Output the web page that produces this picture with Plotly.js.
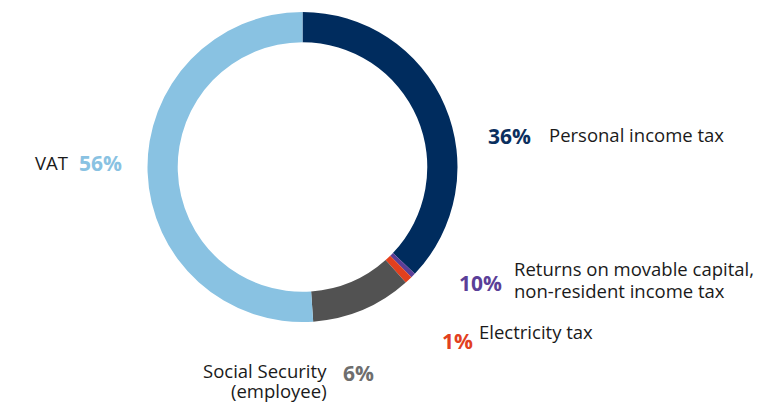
<!DOCTYPE html>
<html>
<head>
<meta charset="utf-8">
<script src="https://cdn.plot.ly/plotly-3.0.1.min.js"></script>
<style>html,body{margin:0;padding:0;background:#fff;}#chart{width:782px;height:403px;}</style>
</head>
<body>
<div id="chart"></div>
<script>
// Data
var categories = ["Personal income tax", "Returns on movable capital,<br>non-resident income tax", "Electricity tax", "Social Security<br>(employee)", "VAT"];
var sliceValues = [37.1, 0.5, 0.8, 10.5, 51.1];
var pctLabels = ["36%", "10%", "1%", "6%", "56%"];

// Styles
var sliceColors = ["#002C5E", "#5B3F98", "#E2401E", "#525252", "#89C2E2"];
var pctColors = ["#0B2F5E", "#5B3F98", "#E2401E", "#6E6E6E", "#89C2E2"];

var W = 782, H = 403;
function px(x) { return x / W; }
function py(y) { return 1 - y / H; }

var cx = 302.5, cy = 167, R = 155;

var trace = {
  type: "pie",
  values: sliceValues,
  labels: categories,
  sort: false,
  direction: "clockwise",
  rotation: 0,
  hole: 0.805,
  marker: { colors: sliceColors, line: { width: 0 } },
  textinfo: "none",
  hoverinfo: "label+percent",
  showlegend: false,
  domain: { x: [px(cx - R), px(cx + R)], y: [py(cy + R), py(cy - R)] }
};

var font = "Open Sans, Noto Sans, sans-serif";
var txtSize = 18.5;
var pctSize = 21;
// [category index, label x, label first-line y, line step, label anchor, pct x, pct y]
var placements = [
  [0, 549, 135, 0, "left", 488, 136],
  [1, 514, 268, 22, "left", 459, 283],
  [2, 479, 331, 0, "left", 442, 341],
  [3, 327, 370, 20, "right", 343, 373],
  [4, 68, 163, 0, "right", 79, 163]
];

var annotations = [];
placements.forEach(function (p) {
  var i = p[0];
  var lines = categories[i].split("<br>");
  lines.forEach(function (ln, k) {
    annotations.push({
      xref: "paper", yref: "paper", x: px(p[1]), y: py(p[2] + k * p[3]),
      xanchor: p[4], yanchor: "middle", align: p[4],
      borderpad: 0, borderwidth: 0,
      text: ln, showarrow: false,
      font: { family: font, size: txtSize, color: "#1a1a1a" }
    });
  });
  annotations.push({
    xref: "paper", yref: "paper", x: px(p[5]), y: py(p[6]),
    xanchor: "left", yanchor: "middle",
    borderpad: 0, borderwidth: 0,
    text: "<b>" + pctLabels[i] + "</b>", showarrow: false,
    font: { family: font, size: pctSize, color: pctColors[i] }
  });
});

var layout = {
  width: W, height: H,
  margin: { l: 0, r: 0, t: 0, b: 0 },
  paper_bgcolor: "#ffffff",
  plot_bgcolor: "#ffffff",
  showlegend: false,
  annotations: annotations
};

Plotly.newPlot("chart", [trace], layout, { displayModeBar: false, staticPlot: true });
</script>
</body>
</html>
